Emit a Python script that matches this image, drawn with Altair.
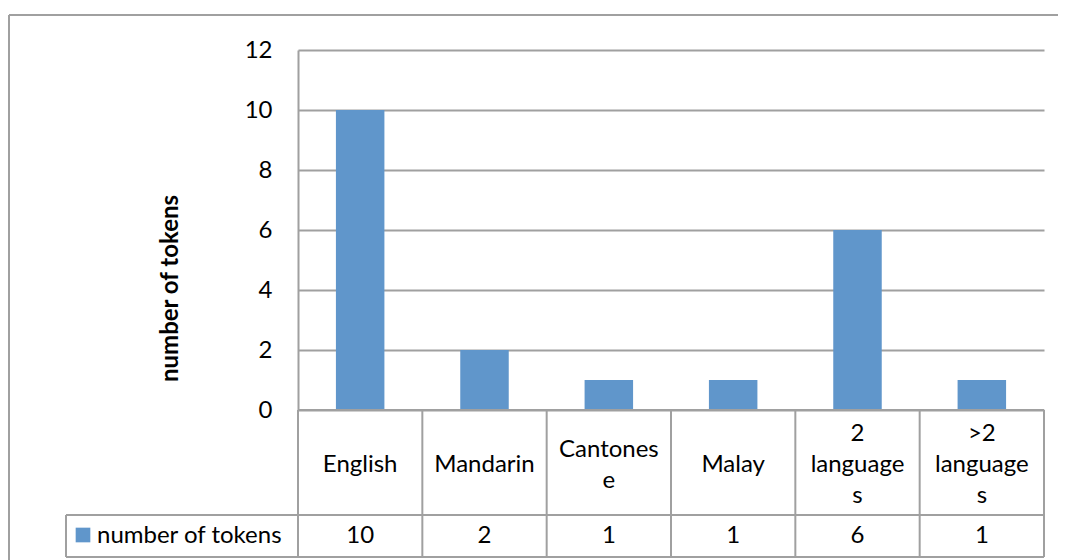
import altair as alt
import pandas as pd

categories = ["English", "Mandarin", "Cantonese", "Malay", "2 languages", ">2 languages"]
header_labels = ["English", "Mandarin", "Cantones\ne", "Malay", "2\nlanguage\ns", ">2\nlanguage\ns"]
values = [10, 2, 1, 1, 6, 1]
series_name = "number of tokens"
y_ticks = [0, 2, 4, 6, 8, 10, 12]

BAR = "#6096CB"
LINE = "#A0A0A0"
FONT = "Lato"
FS = 24
LH = 31

W, H = 746, 360
ROW1_BOTTOM = 465
ROW2_BOTTOM = 507
LEG_LEFT = -232
HEAD_MID = 415

df = pd.DataFrame({"cat": categories, "label": header_labels, "value": values,
                   "series": [series_name] * len(categories)})
df["nlines"] = [len(s.split("\n")) for s in header_labels]

xenc = alt.X("cat:N", sort=categories, scale=alt.Scale(paddingInner=0, paddingOuter=0), axis=None)

frame_base = alt.Chart(pd.DataFrame({"k": [0, 1]})).mark_rule(color=LINE, strokeWidth=2, clip=False)
frame_top = frame_base.transform_filter("datum.k == 0").encode(
    x=alt.value(-289), x2=alt.value(W + 40), y=alt.value(-35))
frame_left = frame_base.transform_filter("datum.k == 1").encode(
    x=alt.value(-289), y=alt.value(-35), y2=alt.value(H + 200))

bars = alt.Chart(df).mark_bar(width=alt.RelativeBandSize(0.39), color=BAR).encode(
    x=xenc,
    y=alt.Y("value:Q", scale=alt.Scale(domain=[0, 12]),
            axis=alt.Axis(values=y_ticks, title=series_name, grid=True, gridColor=LINE, gridWidth=2,
                          domain=True, domainColor=LINE, domainWidth=2, ticks=False,
                          labelFont=FONT, labelFontSize=FS, labelColor="#000000", labelPadding=26,
                          titleFont=FONT, titleFontSize=FS, titleFontWeight="bold", titleColor="#000000",
                          titleX=-128, titleY=238, titleAngle=270, titleAlign="center",
                          titleBaseline="middle")),
)

edges_left = alt.Chart(df).mark_rule(color=LINE, strokeWidth=2, clip=False).encode(
    x=alt.X("cat:N", sort=categories, scale=alt.Scale(paddingInner=0, paddingOuter=0), axis=None,
            bandPosition=0),
    y=alt.value(H), y2=alt.value(ROW2_BOTTOM),
)
edge_right = alt.Chart(df.iloc[[-1]]).mark_rule(color=LINE, strokeWidth=2, clip=False).encode(
    x=alt.X("cat:N", sort=categories, scale=alt.Scale(paddingInner=0, paddingOuter=0), axis=None,
            bandPosition=1),
    y=alt.value(H), y2=alt.value(ROW2_BOTTOM),
)

hlines = alt.Chart(pd.DataFrame({"k": [0, 1, 2]})).mark_rule(color=LINE, strokeWidth=2, clip=False)
h_axis = hlines.transform_filter("datum.k == 0").encode(
    x=alt.value(0), x2=alt.value(W), y=alt.value(H))
h_row1 = hlines.transform_filter("datum.k == 1").encode(
    x=alt.value(LEG_LEFT), x2=alt.value(W), y=alt.value(ROW1_BOTTOM))
h_row2 = hlines.transform_filter("datum.k == 2").encode(
    x=alt.value(LEG_LEFT), x2=alt.value(W), y=alt.value(ROW2_BOTTOM))
v_leg = hlines.transform_filter("datum.k == 0").encode(
    x=alt.value(LEG_LEFT), y=alt.value(ROW1_BOTTOM), y2=alt.value(ROW2_BOTTOM))

header_layers = []
for n in (1, 2, 3):
    header_layers.append(
        alt.Chart(df).transform_filter(f"datum.nlines == {n}").mark_text(
            font=FONT, fontSize=FS, color="#000000", lineBreak="\n", baseline="middle",
            lineHeight=LH, clip=False
        ).encode(x=xenc, y=alt.value(HEAD_MID - (n - 1) * LH / 2), text="label:N")
    )

value_text = alt.Chart(df).mark_text(
    font=FONT, fontSize=FS, color="#000000", baseline="middle", clip=False
).encode(x=xenc, y=alt.value(486), text="value:Q")

legend_sym = alt.Chart(df.iloc[[0]]).mark_square(size=215, color=BAR, opacity=1, clip=False).encode(
    x=alt.value(-215), y=alt.value(485))
legend_txt = alt.Chart(df.iloc[[0]]).mark_text(
    font=FONT, fontSize=FS, color="#000000", align="left", baseline="middle", clip=False
).encode(x=alt.value(-201), y=alt.value(486), text="series:N")

chart = alt.layer(
    frame_top, frame_left, bars, edges_left, edge_right, h_axis, h_row1, h_row2, v_leg,
    *header_layers, value_text, legend_sym, legend_txt
).properties(
    width=W, height=H,
    autosize=alt.AutoSizeParams(type="none"),
    padding={"left": 290, "top": 42, "right": 14, "bottom": 150},
    background="white",
).configure_view(stroke=None)

chart.save("out.html", embed_options={"renderer": "svg", "actions": False})
